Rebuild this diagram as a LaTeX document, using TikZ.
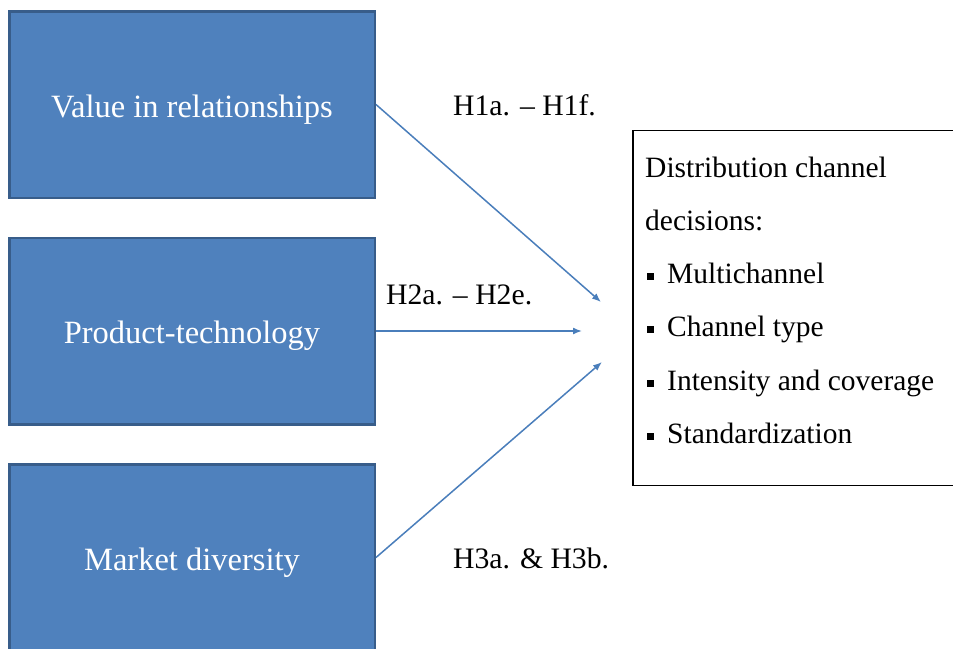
\documentclass[tikz,border=0pt]{standalone}
\usepackage{fontspec}
\setmainfont{Liberation Serif}
\usetikzlibrary{arrows.meta}
\definecolor{boxfill}{HTML}{4F81BD}
\definecolor{boxedge}{HTML}{385D8A}
\definecolor{arrowc}{HTML}{4A7EBB}
\begin{document}
\begin{tikzpicture}[x=1pt,y=-1pt,
  bluebox/.style={draw=boxedge, line width=2.5pt, fill=boxfill, minimum width=365.5pt, minimum height=186.5pt, inner sep=0pt, text height=25pt, text depth=0pt, text=white, font=\fontsize{32.5}{36}\selectfont},
  hlabel/.style={anchor=base west, inner sep=0pt, font=\fontsize{29.7}{34}\selectfont},
  listline/.style={anchor=base west, inner sep=0pt, font=\fontsize{29.5}{34}\selectfont},
  conn/.style={draw=arrowc, line width=1.5pt, -{Latex[length=9pt,width=7pt]}}]
\clip (0,0) rectangle (953,648);
\fill[white] (0,0) rectangle (953,648);
% left boxes
\node[bluebox] (val) at (192,104.5) {Value in relationships};
\node[bluebox] (prod) at (192,331) {Product-technology};
\node[bluebox] (mkt) at (192,557.5) {Market diversity};
% right box
\node[draw=black, line width=1.5pt, minimum width=330pt, minimum height=355pt, inner sep=0pt] (dcd) at (798,308) {};
\node[listline] (l1) at (645,177) {Distribution channel};
\node[listline] (l2) at (645,230) {decisions:};
\node[listline] (l3) at (647,283) {\makebox[20pt][l]{\rule[3.5pt]{6.5pt}{6.5pt}}Multichannel};
\node[listline] (l4) at (647,336) {\makebox[20pt][l]{\rule[3.5pt]{6.5pt}{6.5pt}}Channel type};
\node[listline] (l5) at (647,390) {\makebox[20pt][l]{\rule[3.5pt]{6.5pt}{6.5pt}}Intensity and coverage};
\node[listline] (l6) at (647,443) {\makebox[20pt][l]{\rule[3.5pt]{6.5pt}{6.5pt}}Standardization};
% arrow targets
\coordinate (t1) at (601,302);
\coordinate (t2) at (582,331);
\coordinate (t3) at (602,362);
\draw[conn] (val.east) -- (t1);
\draw[conn] (prod.east) -- (t2);
\draw[conn] (mkt.east) -- (t3);
% labels
\node[hlabel] (h1) at (453,115) {H1a. – H1f.};
\node[hlabel] (h2) at (386,304) {H2a. – H2e.};
\node[hlabel] (h3) at (453,568) {H3a. \& H3b.};
\end{tikzpicture}
\end{document}
